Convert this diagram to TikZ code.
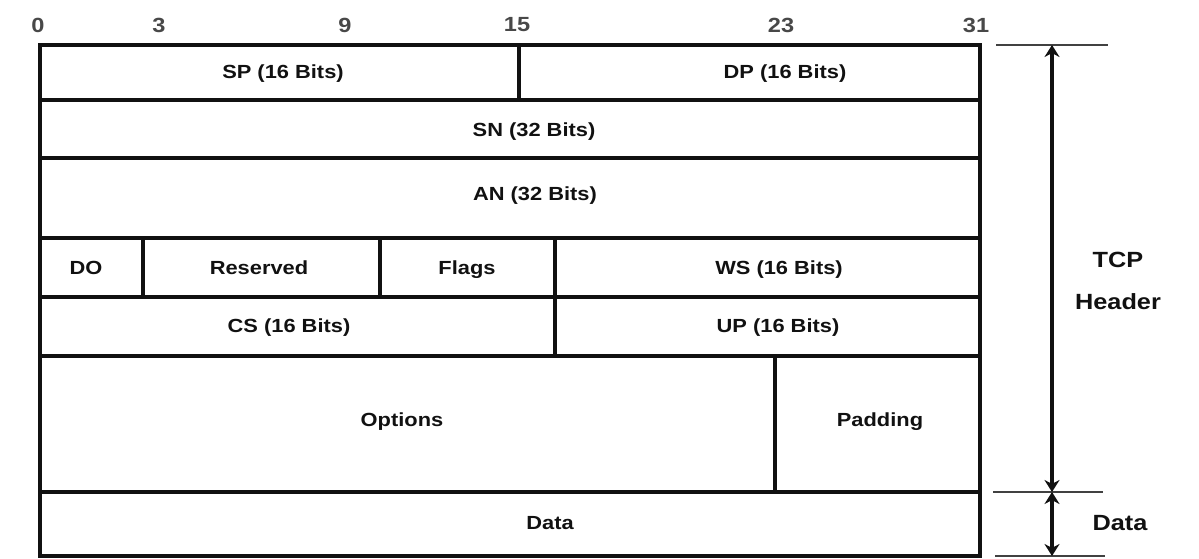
\documentclass[tikz,border=0pt]{standalone}
\usepackage{fontspec}
\setmainfont{Liberation Sans}[FakeStretch=1.15]
\usetikzlibrary{arrows.meta,positioning}
\definecolor{ink}{HTML}{111111}
\definecolor{bitgray}{HTML}{484848}
\tikzset{grid/.style={draw=ink,line width=3.6pt},
 fieldlbl/.style={font=\fontsize{19}{22}\selectfont\bfseries,text=ink,inner sep=0pt,text height=13.6pt,text depth=0pt},
 bitnum/.style={font=\fontsize{20.5}{24}\selectfont\bfseries,text=bitgray,inner sep=0pt},
 sidelbl/.style={font=\fontsize{22}{42}\selectfont\bfseries,text=ink,align=center,inner sep=0pt},
 tickline/.style={draw=ink!80,line width=2.4pt},
 spanarrow/.style={draw=ink,line width=3.8pt,{Stealth[length=12pt,width=15pt]}-{Stealth[length=12pt,width=15pt]}}}
\begin{document}
\begin{tikzpicture}[x=1pt,y=-1pt]
\useasboundingbox (0,0) rectangle (1199,558);
% header grid
\draw[grid] (40,45) rectangle (980,556);
\foreach \y in {100,158,238,297,356,492} \draw[grid] (40,\y)--(980,\y);
\draw[grid] (519,45)--(519,100);
\draw[grid] (143,238)--(143,297);\draw[grid] (380,238)--(380,297);
\draw[grid] (555,238)--(555,356);
\draw[grid] (775,356)--(775,492);
% bit positions
\foreach \n/\x in {0/38,3/159,9/345,15/517,23/781,31/976} \node[bitnum] (b\n) at (\x,25) {\n};
% fields
\node[fieldlbl] (sp) at (283,72) {SP (16 Bits)};
\node[fieldlbl] (dp) at (785,72) {DP (16 Bits)};
\node[fieldlbl] (sn) at (534,130) {SN (32 Bits)};
\node[fieldlbl] (an) at (535,194) {AN (32 Bits)};
\node[fieldlbl] (do) at (86,268) {DO};
\node[fieldlbl] (rsv) at (259,268) {Reserved};
\node[fieldlbl] (flg) at (467,268) {Flags};
\node[fieldlbl] (ws) at (779,268) {WS (16 Bits)};
\node[fieldlbl] (cs) at (289,326) {CS (16 Bits)};
\node[fieldlbl] (up) at (778,326) {UP (16 Bits)};
\node[fieldlbl] (opt) at (402,420) {Options};
\node[fieldlbl] (pad) at (880,420) {Padding};
\node[fieldlbl] (data) at (550,523) {Data};
% extent marks
\coordinate (hdtop) at (1052,45); \coordinate (hdbot) at (1052,492); \coordinate (dtbot) at (1052,556);
\draw[tickline] (996,45)--(1108,45);
\draw[tickline] (993,492)--(1103,492);
\draw[tickline] (995,556)--(1105,556);
\draw[spanarrow] (hdtop)--(hdbot);
\draw[spanarrow] (hdbot)--(dtbot);
\node[sidelbl] (hdr) at (1118,281) {TCP\\Header};
\node[sidelbl] (dtl) at (1120,523) {Data};
\end{tikzpicture}
\end{document}
